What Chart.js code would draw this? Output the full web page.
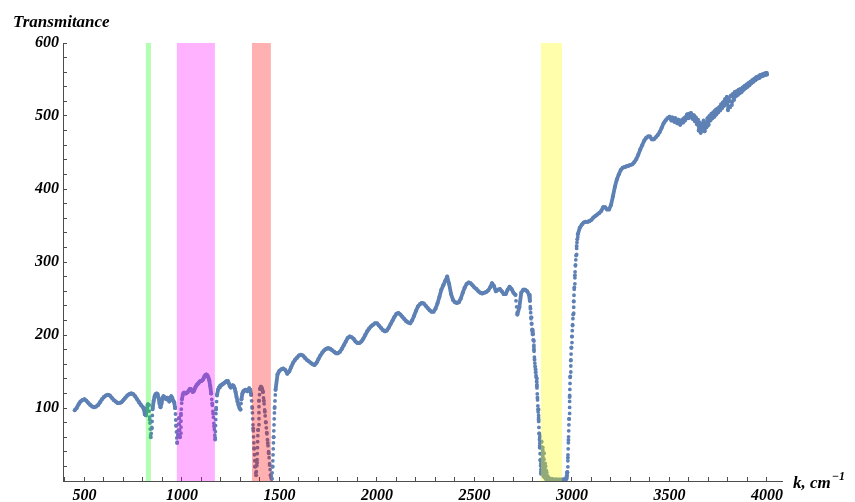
<!DOCTYPE html>
<html>
<head>
<meta charset="utf-8">
<title>Transmitance spectrum</title>
<script src="https://cdn.jsdelivr.net/npm/chart.js@4.4.1/dist/chart.umd.min.js"></script>
<style>
  html, body { margin: 0; padding: 0; background: #ffffff; }
  canvas { display: block; }
</style>
</head>
<body>
<canvas id="spectrum" width="855" height="502"></canvas>
<script>
// Measured transmittance, stored in runs of evenly spaced wavenumbers (cm^-1).
const runStart = [450, 805, 1490, 2784, 3040, 3505];
const runStep  = [10, 5, 10, 3, 10, 5];

// 450 – 800 cm^-1
const transA = [97,100,105,109,111,112,110,107,104,102,101,102,104,108,112,115,117,118,117,114,
  111,109,107,107,108,111,114,117,119,120,119,116,112,108,104,101];
// 805 – 1480 cm^-1
const transB = [98,91,90,99,105,104,84,60,72,100,
  110,116,119,120,119,114,106,101,106,113,
  116,115,113,112,114,113,109,113,116,114,
  110,108,100,76,52,64,86,60,92,112,
  119,121,121,120,121,122,124,126,126,124,
  122,123,126,129,131,133,134,136,137,137,
  138,140,143,145,146,145,142,138,130,120,
  106,92,75,57,98,118,125,128,130,131,
  132,133,134,135,136,137,137,134,130,128,
  129,131,130,127,122,115,109,104,100,98,
  112,120,123,124,125,124,123,125,127,125,
  118,100,72,45,20,8,25,70,110,126,
  129,127,122,110,95,80,66,52,38,22,
  8,3,20,60,100,125];
// 1490 – 2780 cm^-1
const transC = [146,151,153,154,152,147,150,156,162,166,
  169,172,173,172,169,166,164,162,160,159,
  162,167,172,176,179,181,182,181,179,177,
  175,175,177,181,186,191,196,198,197,195,
  191,189,189,191,195,200,205,209,212,214,
  216,216,213,210,207,205,206,210,215,220,
  225,229,230,228,225,222,219,217,216,220,
  226,233,239,242,244,243,240,237,234,232,
  232,236,243,252,262,268,274,280,270,256,
  248,245,244,245,250,258,265,270,272,271,
  268,265,263,260,258,257,258,259,261,265,
  271,267,260,262,263,260,256,256,262,266,
  263,258,255,228,238,258,262,262,260,255];
// 2784 – 3030 cm^-1
const transD = [247,236,224,215,207,201,193,180,166,157,
  149,142,130,114,98,84,65,46,28,10,
  54,12,46,7,38,5,24,3,14,2,
  6,1,3,2,1,3,1,2,1,2,
  1,1,2,1,1,2,1,1,2,1,
  1,2,1,1,2,1,1,2,1,2,
  1,2,3,6,12,32,56,85,115,143,
  165,183,198,213,228,246,265,282,296,309,
  322,331,338];
// 3040 – 3500 cm^-1
const transE = [347,351,354,355,355,356,358,361,363,365,
  367,370,375,375,372,372,378,390,403,413,
  420,426,429,430,431,432,433,434,437,441,
  447,454,460,466,470,472,472,468,468,471,
  474,478,484,490,494,497,499];
// 3505 – 4000 cm^-1
const transF = [497,494,498,495,492,497,493,490,495,491,
  488,492,495,491,497,494,499,502,497,503,
  499,504,500,496,501,493,498,489,495,480,
  491,477,488,482,494,479,490,485,497,488,
  500,494,503,497,505,499,508,502,510,505,
  512,508,516,511,519,514,523,517,526,508,
  524,512,528,515,530,522,533,527,534,529,
  536,531,537,533,539,536,541,538,543,540,
  545,542,547,545,549,547,551,549,553,551,
  554,552,556,554,557,555,558,556,559,557];

const runs = [transA, transB, transC, transD, transE, transF];

// Highlighted absorption regions (cm^-1)
const bandFrom   = [815, 974, 1359, 2841];
const bandTo     = [841, 1169, 1456, 2949];
const bandColors = ['rgba(0,255,0,0.30)', 'rgba(255,0,255,0.30)', 'rgba(255,0,0,0.31)', 'rgba(255,255,0,0.33)'];

// Axis ticks
const xMajorTicks = [500, 1000, 1500, 2000, 2500, 3000, 3500, 4000];
const yMajorTicks = [100, 200, 300, 400, 500, 600];

const points = [];
runs.forEach((vals, r) => {
  vals.forEach((v, i) => points.push({ x: runStart[r] + i * runStep[r], y: v }));
});

const SERIF = "'Liberation Serif', 'Times New Roman', serif";
const labelFont = { family: SERIF, size: 16, style: 'italic', weight: 'bold', lineHeight: 1.2 };
const axisColor = '#4d4d4d';
const markColor = 'rgb(94,129,181)';

// The trace is drawn as a thick band where it changes slowly and as a
// dotted run across the steep absorption edges.
const STEEP_SLOPE = 2.2; // transmittance units per cm^-1
const isSteep = c =>
  Math.abs(c.p1.parsed.y - c.p0.parsed.y) / Math.abs(c.p1.parsed.x - c.p0.parsed.x) > STEEP_SLOPE;

const bandPlugin = {
  id: 'absorptionBands',
  afterDatasetsDraw(chart) {
    const { ctx, scales: { x, y } } = chart;
    const top = y.getPixelForValue(600);
    const bottom = y.getPixelForValue(0);
    ctx.save();
    bandFrom.forEach((from, i) => {
      const x0 = x.getPixelForValue(from);
      const x1 = x.getPixelForValue(bandTo[i]);
      ctx.fillStyle = bandColors[i];
      ctx.fillRect(x0, top, x1 - x0, bottom - top);
    });
    ctx.restore();
  }
};

const captionPlugin = {
  id: 'axisCaptions',
  afterDraw(chart) {
    const { ctx, scales: { x, y } } = chart;
    ctx.save();
    ctx.fillStyle = '#000';
    ctx.textBaseline = 'alphabetic';
    ctx.textAlign = 'left';
    ctx.font = `italic bold 17px ${SERIF}`;
    ctx.fillText('Transmitance', y.left + 13, y.top - 16);
    const bx = x.right + 11;
    const by = y.getPixelForValue(0) + 7;
    ctx.fillText('k, cm', bx, by);
    const w = ctx.measureText('k, cm').width;
    ctx.font = `italic bold 12px ${SERIF}`;
    ctx.fillText('\u22121', bx + w + 1, by - 8);
    ctx.restore();
  }
};

new Chart(document.getElementById('spectrum'), {
  type: 'scatter',
  data: {
    datasets: [{
      data: points,
      showLine: true,
      borderWidth: 3.8,
      borderColor: markColor,
      borderCapStyle: 'round',
      borderJoinStyle: 'round',
      segment: {
        borderDash: c => isSteep(c) ? [0, 6] : [],
        borderCapStyle: 'round'
      },
      pointRadius: 2,
      pointHoverRadius: 2,
      pointBorderWidth: 0,
      pointBackgroundColor: markColor
    }]
  },
  options: {
    responsive: false,
    animation: false,
    events: [],
    layout: { padding: { left: 0, top: 43, right: 73, bottom: 0 } },
    plugins: { legend: { display: false }, tooltip: { enabled: false }, title: { display: false } },
    scales: {
      x: {
        type: 'linear',
        position: 'bottom',
        min: 390,
        max: 4077,
        ticks: {
          stepSize: 100,
          includeBounds: false,
          autoSkip: false,
          maxRotation: 0,
          padding: 9,
          color: '#000',
          font: labelFont,
          callback: v => xMajorTicks.includes(v) ? String(v) : ''
        },
        grid: { drawOnChartArea: false, drawTicks: true, tickLength: -4, tickColor: axisColor, tickWidth: 1 },
        border: { display: true, color: axisColor, width: 1 },
        afterFit: s => { s.height = 21; }
      },
      y: {
        type: 'linear',
        position: 'left',
        min: 0,
        max: 600,
        ticks: {
          stepSize: 20,
          includeBounds: false,
          autoSkip: false,
          padding: 8,
          color: '#000',
          font: labelFont,
          callback: v => yMajorTicks.includes(v) ? String(v) : ''
        },
        grid: { drawOnChartArea: false, drawTicks: true, tickLength: -4, tickColor: axisColor, tickWidth: 1 },
        border: { display: true, color: axisColor, width: 1 },
        afterFit: s => { s.width = 63; }
      }
    }
  },
  plugins: [bandPlugin, captionPlugin]
});
</script>
</body>
</html>
